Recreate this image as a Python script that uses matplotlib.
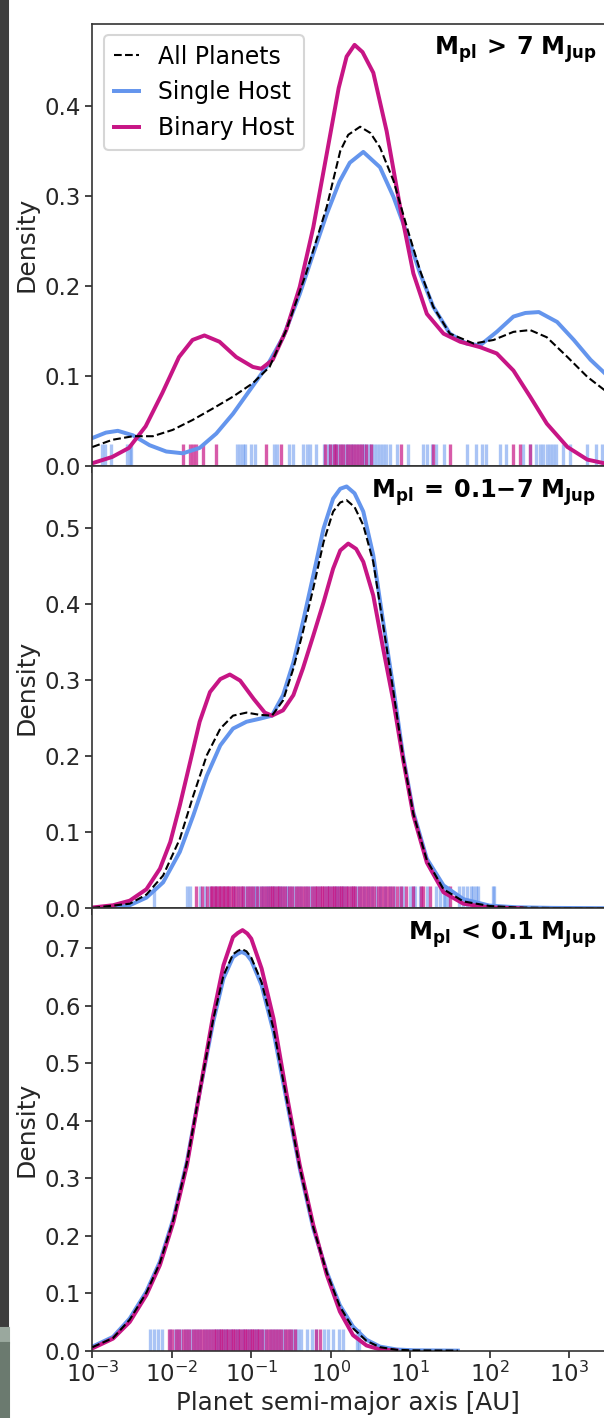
import numpy as np
import matplotlib
matplotlib.use('Agg')
import matplotlib.pyplot as plt
from matplotlib.patches import Rectangle
from matplotlib.ticker import MultipleLocator, NullLocator

# %% data: log10(a / AU) and KDE density
# panel 1 : M_pl > 7 M_Jup
p1_all_loga = [-3.00, -2.75, -2.49, -2.24, -1.99, -1.74, -1.48, -1.23, -0.98,
               -0.77, -0.56, -0.31, -0.05, 0.12, 0.22, 0.37, 0.50, 0.62, 0.79,
               0.96, 1.125, 1.29, 1.50, 1.80, 2.05, 2.30, 2.51, 2.72, 2.98,
               3.23, 3.45]
p1_all_dens = [0.021, 0.029, 0.033, 0.033, 0.040, 0.051, 0.064, 0.077, 0.092,
               0.110, 0.151, 0.214, 0.288, 0.350, 0.368, 0.377, 0.370, 0.354,
               0.317, 0.265, 0.217, 0.177, 0.147, 0.136, 0.140, 0.149, 0.151,
               0.143, 0.121, 0.099, 0.084]
p1_single_loga = [-3.00, -2.83, -2.68, -2.49, -2.28, -2.07, -1.86, -1.65, -1.44,
                  -1.23, -1.02, -0.81, -0.60, -0.39, -0.22, -0.05, 0.11, 0.24,
                  0.41, 0.62, 0.79, 0.96, 1.125, 1.29, 1.50, 1.71, 1.88, 2.09,
                  2.30, 2.45, 2.62, 2.85, 3.06, 3.27, 3.45]
p1_single_dens = [0.031, 0.037, 0.039, 0.034, 0.023, 0.016, 0.014, 0.020, 0.036,
                  0.058, 0.084, 0.110, 0.143, 0.191, 0.236, 0.280, 0.316, 0.337,
                  0.349, 0.332, 0.299, 0.258, 0.214, 0.177, 0.147, 0.136, 0.134,
                  0.149, 0.166, 0.170, 0.171, 0.160, 0.140, 0.118, 0.103]
p1_binary_loga = [-3.00, -2.75, -2.54, -2.33, -2.12, -1.91, -1.74, -1.59, -1.40,
                  -1.19, -0.98, -0.875, -0.73, -0.56, -0.39, -0.22, -0.05, 0.10,
                  0.20, 0.30, 0.40, 0.536, 0.704, 0.873, 1.04, 1.21, 1.42, 1.63,
                  1.88, 2.09, 2.30, 2.51, 2.72, 2.98, 3.23, 3.44]
p1_binary_dens = [0.003, 0.010, 0.020, 0.044, 0.081, 0.121, 0.140, 0.145, 0.138,
                  0.121, 0.110, 0.108, 0.118, 0.151, 0.199, 0.265, 0.347, 0.420,
                  0.455, 0.468, 0.460, 0.437, 0.372, 0.288, 0.214, 0.169, 0.147,
                  0.138, 0.132, 0.125, 0.106, 0.077, 0.047, 0.021, 0.007, 0.003]
p1_rug_single = [-2.88, -2.84, -2.76, -2.57, -2.53, -2.51, -1.18, -1.14, -1.11,
                 -1.08, -1.00, -0.95, -0.72, -0.68, -0.53, -0.47, -0.35, -0.30,
                 -0.26, -0.18, -0.09, -0.04, -0.01, 0.03, 0.05, 0.08, 0.12, 0.16,
                 0.19, 0.22, 0.25, 0.28, 0.32, 0.36, 0.39, 0.42, 0.45, 0.48, 0.51,
                 0.55, 0.58, 0.62, 0.66, 0.70, 0.74, 0.83, 0.97, 1.16, 1.21, 1.27,
                 1.33, 1.42, 1.71, 1.83, 1.90, 1.96, 2.13, 2.21, 2.42, 2.51, 2.59,
                 2.63, 2.67, 2.72, 2.76, 2.80, 2.84, 2.92, 3.01, 3.22, 3.34, 3.41]
p1_rug_binary = [-1.86, -1.77, -1.73, -1.69, -1.61, -1.44, -0.81, -0.62, -0.07,
                 -0.01, 0.04, 0.07, 0.12, 0.16, 0.20, 0.24, 0.28, 0.32, 0.36,
                 0.39, 0.45, 0.51, 0.89, 1.29, 1.50, 2.30, 2.38, 2.51]

# panel 2 : M_pl = 0.1-7 M_Jup
p2_all_loga = [-3.00, -2.53, -2.32, -2.11, -1.90, -1.73, -1.56, -1.39, -1.23,
               -1.06, -0.89, -0.74, -0.60, -0.47, -0.35, -0.22, -0.09, 0.03,
               0.12, 0.20, 0.30, 0.41, 0.535, 0.66, 0.79, 0.91, 1.04, 1.21,
               1.42, 1.67, 2.00, 2.34, 2.80, 3.44]
p2_all_dens = [0.0005, 0.006, 0.018, 0.043, 0.091, 0.148, 0.201, 0.236, 0.253,
               0.257, 0.254, 0.253, 0.273, 0.315, 0.363, 0.420, 0.481, 0.521,
               0.533, 0.536, 0.527, 0.503, 0.455, 0.372, 0.284, 0.199, 0.124,
               0.063, 0.025, 0.009, 0.003, 0.001, 0.0003, 0.0001]
p2_single_loga = [-3.00, -2.74, -2.53, -2.32, -2.11, -1.90, -1.73, -1.56, -1.39,
                  -1.23, -1.06, -0.89, -0.74, -0.60, -0.47, -0.35, -0.22, -0.09,
                  0.03, 0.12, 0.20, 0.30, 0.41, 0.535, 0.66, 0.79, 0.91, 1.04,
                  1.21, 1.42, 1.67, 2.00, 2.34, 2.80, 3.44]
p2_single_dens = [0.0005, 0.001, 0.004, 0.014, 0.034, 0.074, 0.122, 0.174, 0.214,
                  0.236, 0.245, 0.249, 0.253, 0.280, 0.323, 0.376, 0.437, 0.499,
                  0.538, 0.551, 0.554, 0.545, 0.521, 0.464, 0.376, 0.288, 0.201,
                  0.126, 0.065, 0.030, 0.012, 0.0035, 0.0013, 0.0005, 0.0001]
p2_binary_loga = [-3.00, -2.74, -2.53, -2.32, -2.15, -2.02, -1.90, -1.77, -1.65,
                  -1.52, -1.39, -1.27, -1.14, -0.97, -0.83, -0.74, -0.60, -0.47,
                  -0.35, -0.22, -0.09, 0.03, 0.12, 0.22, 0.32, 0.41, 0.535, 0.66,
                  0.79, 0.91, 1.04, 1.21, 1.42, 1.67, 2.00, 2.40]
p2_binary_dens = [0.001, 0.004, 0.010, 0.025, 0.052, 0.087, 0.135, 0.192, 0.245,
                  0.284, 0.301, 0.307, 0.299, 0.275, 0.257, 0.253, 0.260, 0.280,
                  0.315, 0.358, 0.402, 0.446, 0.470, 0.479, 0.472, 0.455, 0.411,
                  0.341, 0.271, 0.196, 0.122, 0.060, 0.021, 0.006, 0.001, 0.0]
p2_rug_single = [-2.23, -1.81, -1.77, -1.65, -1.58, -1.52, -1.47, -1.43, -1.38,
                 -1.33, -1.28, -1.22, -1.17, -1.12, -1.08, -1.04, -1.00, -0.97,
                 -0.94, -0.91, -0.88, -0.85, -0.82, -0.79, -0.76, -0.73, -0.70,
                 -0.67, -0.64, -0.61, -0.58, -0.55, -0.52, -0.49, -0.45, -0.41,
                 -0.37, -0.33, -0.29, -0.25, -0.21, -0.17, -0.13, -0.09, -0.05,
                 -0.02, 0.02, 0.05, 0.08, 0.11, 0.14, 0.17, 0.21, 0.25, 0.29,
                 0.33, 0.37, 0.42, 0.47, 0.52, 0.57, 0.62, 0.68, 0.74, 0.80, 0.87,
                 0.91, 1.00, 1.04, 1.06, 1.12, 1.21, 1.33, 1.37, 1.42, 1.44, 1.48,
                 1.62, 1.67, 1.71, 1.77, 1.79, 1.83, 1.86, 2.04, 2.06]
p2_rug_binary = [-1.69, -1.62, -1.56, -1.51, -1.49, -1.46, -1.44, -1.41, -1.39,
                 -1.36, -1.34, -1.31, -1.29, -1.26, -1.23, -1.20, -1.17, -1.13,
                 -1.10, -1.06, -1.02, -0.98, -0.93, -0.88, -0.84, -0.80, -0.77,
                 -0.74, -0.71, -0.68, -0.65, -0.61, -0.57, -0.53, -0.49, -0.44,
                 -0.40, -0.36, -0.32, -0.28, -0.24, -0.20, -0.17, -0.14, -0.11,
                 -0.08, -0.05, -0.02, 0.01, 0.04, 0.07, 0.10, 0.13, 0.16, 0.19,
                 0.22, 0.25, 0.28, 0.31, 0.35, 0.39, 0.43, 0.47, 0.51, 0.55, 0.59,
                 0.63, 0.67, 0.71, 0.75, 0.79, 0.83, 0.89, 0.95, 1.04, 1.14, 1.16,
                 1.25, 1.50]

# panel 3 : M_pl < 0.1 M_Jup
p3_all_loga = [-3.00, -2.74, -2.53, -2.32, -2.15, -1.98, -1.81, -1.65, -1.48,
               -1.35, -1.23, -1.17, -1.12, -1.06, -1.00, -0.87, -0.72, -0.56,
               -0.39, -0.22, -0.05, 0.115, 0.28, 0.45, 0.62, 0.83, 1.04, 1.60]
p3_all_dens = [0.006, 0.022, 0.054, 0.101, 0.153, 0.228, 0.328, 0.451, 0.576,
               0.653, 0.690, 0.696, 0.699, 0.695, 0.684, 0.641, 0.560, 0.442,
               0.319, 0.215, 0.136, 0.077, 0.039, 0.017, 0.006, 0.0015, 0.0005,
               0.0]
p3_single_loga = [-3.00, -2.74, -2.53, -2.32, -2.15, -1.98, -1.81, -1.65, -1.48,
                  -1.35, -1.23, -1.17, -1.12, -1.06, -1.00, -0.87, -0.72, -0.56,
                  -0.39, -0.22, -0.05, 0.115, 0.28, 0.45, 0.62, 0.83, 1.04, 1.60]
p3_single_dens = [0.007, 0.024, 0.056, 0.103, 0.155, 0.230, 0.329, 0.450, 0.572,
                  0.648, 0.685, 0.691, 0.694, 0.690, 0.679, 0.636, 0.555, 0.439,
                  0.317, 0.213, 0.137, 0.079, 0.042, 0.019, 0.007, 0.002, 0.0006,
                  0.0]
p3_binary_loga = [-3.00, -2.74, -2.53, -2.32, -2.15, -1.98, -1.81, -1.65, -1.48,
                  -1.35, -1.23, -1.17, -1.11, -1.05, -1.00, -0.87, -0.72, -0.56,
                  -0.39, -0.22, -0.05, 0.115, 0.28, 0.45, 0.62, 0.83]
p3_binary_dens = [0.004, 0.021, 0.050, 0.097, 0.149, 0.224, 0.323, 0.450, 0.584,
                  0.671, 0.720, 0.727, 0.732, 0.726, 0.717, 0.665, 0.578, 0.450,
                  0.323, 0.219, 0.132, 0.068, 0.027, 0.009, 0.002, 0.0]
p3_rug_single = [-2.28, -2.23, -2.17, -2.13, -2.02, -1.96, -1.92, -1.88, -1.84,
                 -1.80, -1.76, -1.72, -1.68, -1.64, -1.60, -1.56, -1.52, -1.48,
                 -1.45, -1.42, -1.39, -1.36, -1.33, -1.30, -1.27, -1.24, -1.21,
                 -1.18, -1.15, -1.12, -1.09, -1.06, -1.03, -1.00, -0.97, -0.94,
                 -0.91, -0.88, -0.85, -0.81, -0.77, -0.73, -0.69, -0.65, -0.61,
                 -0.57, -0.53, -0.49, -0.45, -0.41, -0.37, -0.30, -0.24, -0.18,
                 -0.09, -0.03, 0.03, 0.10, 0.16, 0.33, 0.36]
p3_rug_binary = [-2.04, -2.00, -1.95, -1.91, -1.86, -1.82, -1.78, -1.74, -1.70,
                 -1.66, -1.62, -1.58, -1.55, -1.51, -1.47, -1.44, -1.41, -1.38,
                 -1.35, -1.32, -1.29, -1.26, -1.23, -1.20, -1.17, -1.14, -1.11,
                 -1.08, -1.05, -1.02, -0.99, -0.96, -0.93, -0.90, -0.86, -0.82,
                 -0.78, -0.74, -0.70, -0.66, -0.62, -0.58, -0.54, -0.50, -0.45,
                 -0.18, -0.14]

titles = [r'$\mathbf{M_{pl}\:>\:7\ M_{Jup}}$',
          r'$\mathbf{M_{pl}\:=\:0.1{-}7\ M_{Jup}}$',
          r'$\mathbf{M_{pl}\:<\:0.1\ M_{Jup}}$']
ytops = [0.4917, 0.581, 0.770]

c_single = 'cornflowerblue'
c_binary = 'mediumvioletred'

panels = [
    (p1_all_loga, p1_all_dens, p1_single_loga, p1_single_dens,
     p1_binary_loga, p1_binary_dens, p1_rug_single, p1_rug_binary),
    (p2_all_loga, p2_all_dens, p2_single_loga, p2_single_dens,
     p2_binary_loga, p2_binary_dens, p2_rug_single, p2_rug_binary),
    (p3_all_loga, p3_all_dens, p3_single_loga, p3_single_dens,
     p3_binary_loga, p3_binary_dens, p3_rug_single, p3_rug_binary),
]

# %%
fig, axes = plt.subplots(3, 1, sharex=True, figsize=(604/150, 1418/150),
                         dpi=150)
fig.subplots_adjust(left=0.153, right=1.0, top=0.9834, bottom=0.0475,
                    hspace=0)

for i, ax in enumerate(axes):
    a_all, d_all, a_s, d_s, a_b, d_b, rug_s, rug_b = panels[i]
    trans = ax.get_xaxis_transform()
    ax.vlines(10**np.array(rug_s), 0, 0.05, transform=trans, color=c_single,
              alpha=0.55, lw=1.6, zorder=1)
    ax.vlines(10**np.array(rug_b), 0, 0.05, transform=trans, color=c_binary,
              alpha=0.7, lw=1.6, zorder=1)
    l_s, = ax.plot(10**np.array(a_s), d_s, color=c_single, lw=1.9,
                   label='Single Host', zorder=2)
    l_b, = ax.plot(10**np.array(a_b), d_b, color=c_binary, lw=1.9,
                   label='Binary Host', zorder=2.1)
    l_a, = ax.plot(10**np.array(a_all), d_all, 'k--', lw=1.0,
                   label='All Planets', zorder=3)
    ax.set_xscale('log')
    ax.set_xlim(1e-3, 10**3.44)
    ax.set_ylim(0, ytops[i])
    ax.yaxis.set_major_locator(MultipleLocator(0.1))
    ax.xaxis.set_minor_locator(NullLocator())
    ax.set_ylabel('Density', fontsize=12, color='0.15', labelpad=3)
    ax.tick_params(labelsize=11, colors='0.15', length=3.5, pad=2)
    ax.spines['right'].set_visible(False)
    for s in ['left', 'top', 'bottom']:
        ax.spines[s].set_color('0.2')
    ax.text(0.985, 0.975, titles[i], transform=ax.transAxes, ha='right',
            va='top', fontsize=11.5, color='k')
    if i == 0:
        ax.legend(handles=[l_a, l_s, l_b], loc='upper left', fontsize=11.3,
                  handlelength=1.1)

axes[-1].set_xlabel('Planet semi-major axis [AU]', fontsize=11.8,
                    color='0.15', labelpad=2)

# screenshot edge on the left
fig.add_artist(Rectangle((0, 0.0635), 8/604, 1-0.0635,
                         transform=fig.transFigure, color='#3c3c3c',
                         zorder=10))
fig.add_artist(Rectangle((0, 0.0529), 8.5/604, 0.0106,
                         transform=fig.transFigure, color='#9aa89e',
                         zorder=10))
fig.add_artist(Rectangle((0, 0), 8.5/604, 0.0529,
                         transform=fig.transFigure, color='#6b7a6f',
                         zorder=10))

fig.savefig('out.png', dpi=150)
